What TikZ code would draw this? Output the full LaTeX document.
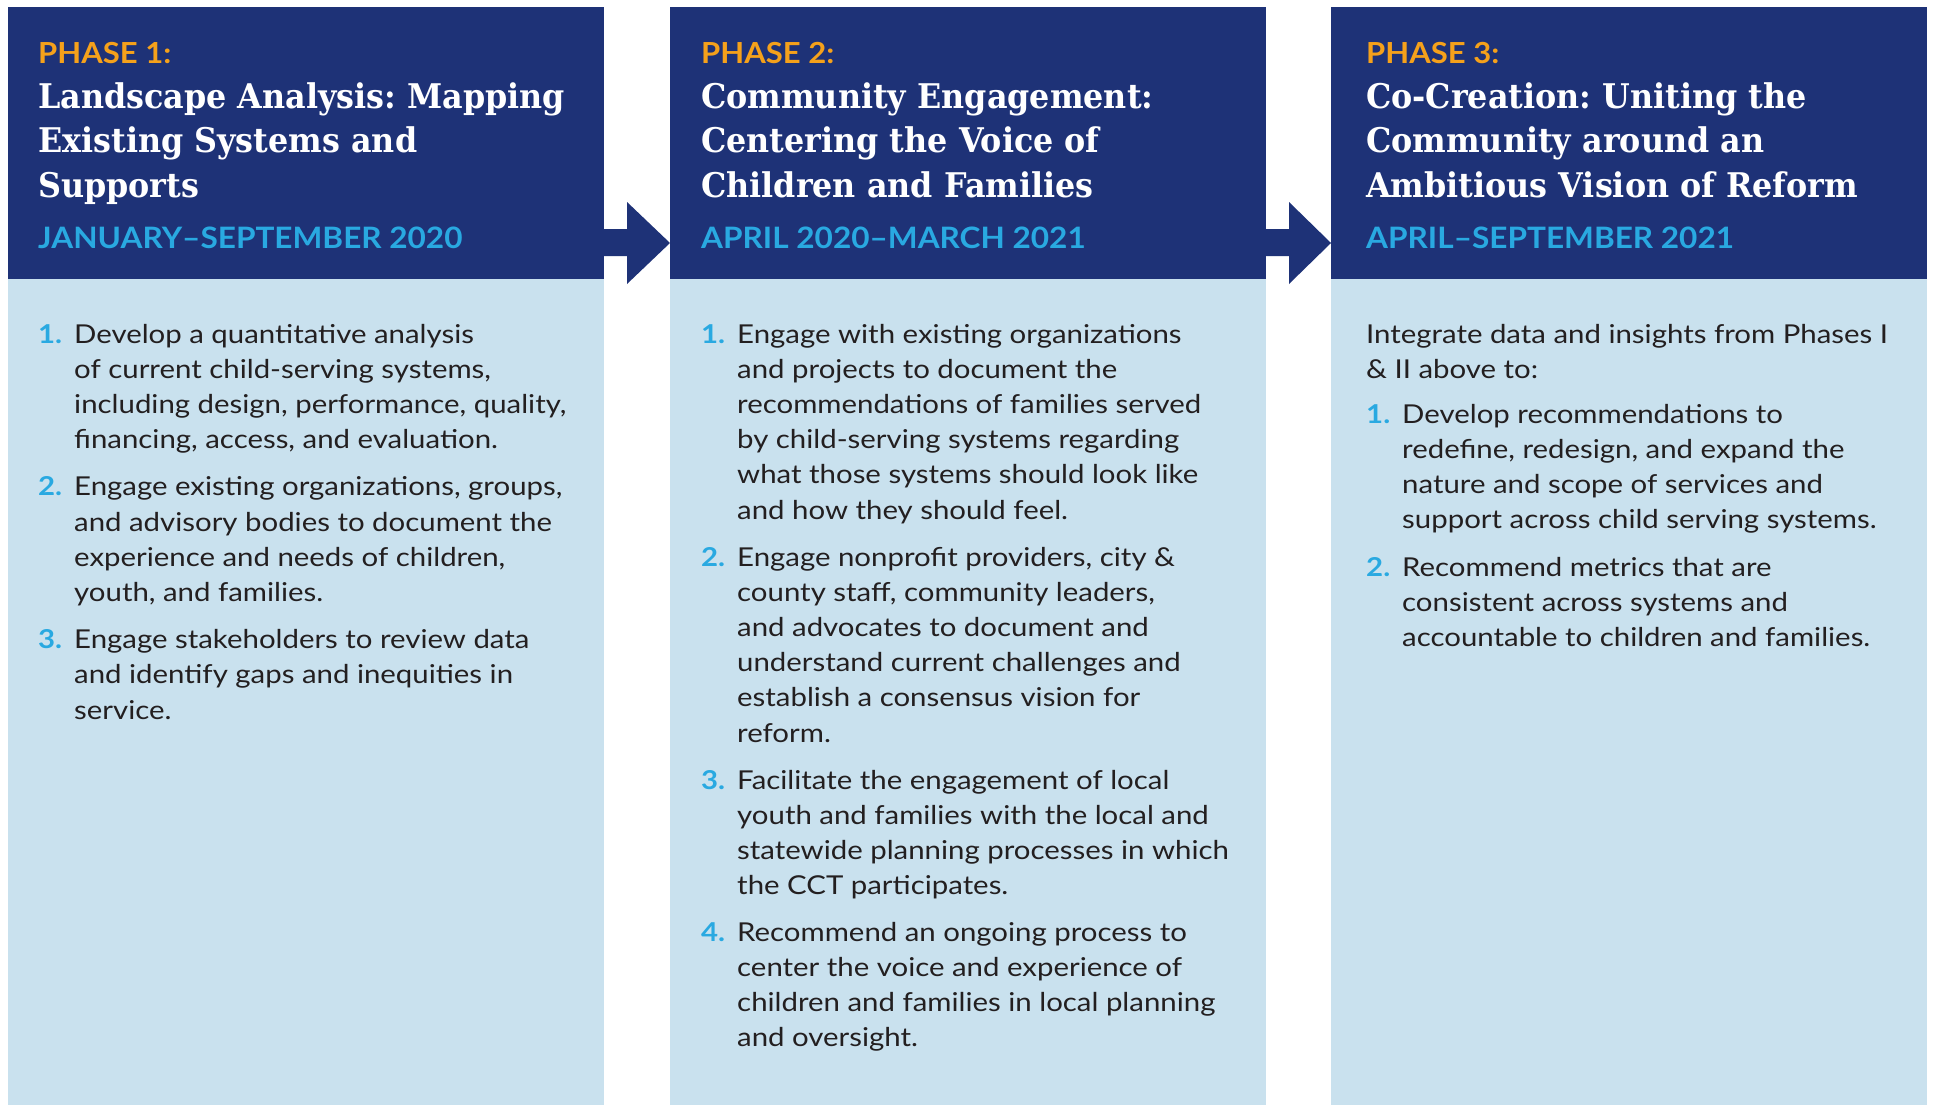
\documentclass[tikz,border=0pt]{standalone}
\usepackage{fontspec}
\setmainfont{Lato}[FakeStretch=1.13]
\newfontfamily\headsans{Lato}[FakeStretch=1.07]
\newfontfamily\slabfont{DejaVu Serif}[FakeStretch=0.935]
\usetikzlibrary{calc}
\definecolor{navy}{HTML}{1E3277}
\definecolor{pale}{HTML}{C9E1EE}
\definecolor{phaseorange}{HTML}{F5A11B}
\definecolor{dateblue}{HTML}{29A9E1}
\definecolor{ink}{HTML}{231F20}
\frenchspacing
\newcommand\phaseitem[6]{% name, num x, text x, baseline, number, lines
  \node[num] (#1n) at (#2,#4) {#5};
  \foreach \mytext [count=\k] in {#6} \node[txt] (#1l\k) at (#3,{#4+(\k-1)*35.2}) {\mytext};
}
\newcommand\phaselines[4]{% name, x, baseline, lines
  \foreach \mytext [count=\k] in {#4} \node[txt] (#1l\k) at (#2,{#3+(\k-1)*35.2}) {\mytext};
}
\newcommand\phasehead[6]{% name, x, phase, title lines, date
  \node[phase] (#1p) at (#2,64) {#3};
  \foreach \mytext [count=\k] in {#4} \node[title] (#1t\k) at (#2,{108.5+(\k-1)*44.4}) {\mytext};
  \node[date] (#1d) at (#2,248) {#5};
}
\begin{document}
\begin{tikzpicture}[x=1pt,y=-1pt,
  hdr/.style={fill=navy, draw=none, anchor=north west, minimum width=596pt, minimum height=272pt, inner sep=0pt, outer sep=0pt},
  bodybox/.style={fill=pale, draw=none, anchor=north west, minimum width=596pt, minimum height=830pt, inner sep=0pt, outer sep=0pt},
  phase/.style={anchor=base west, inner sep=0pt, text=phaseorange, font=\headsans\fontsize{29}{35}\selectfont\bfseries},
  title/.style={anchor=base west, inner sep=0pt, text=white, font=\slabfont\fontsize{34}{44}\selectfont\bfseries},
  date/.style={anchor=base west, inner sep=0pt, text=dateblue, font=\headsans\fontsize{29.5}{35}\selectfont\bfseries},
  num/.style={anchor=base west, inner sep=0pt, text=dateblue, font=\fontsize{26}{35}\selectfont\bfseries},
  txt/.style={anchor=base west, inner sep=0pt, text=ink, font=\fontsize{26}{35}\selectfont},
  arrowshape/.style={fill=navy}
]
\useasboundingbox[fill=white] (0,0) rectangle (1933,1105);
% columns
\node[bodybox] (b1) at (8,279) {};
\node[bodybox] (b2) at (670,279) {};
\node[bodybox] (b3) at (1331,279) {};
\node[hdr] (h1) at (8,7) {};
\node[hdr] (h2) at (670,7) {};
\node[hdr] (h3) at (1331,7) {};
% arrows
\foreach \a/\b in {h1/h2,h2/h3}{
  \fill[arrowshape] ($(\a.south east)+(-1,-50)$) -- ($(\a.south east)+(23,-50)$) -- ($(\a.south east)+(23,-77)$)
    -- ($(\b.south west)+(0,-36)$) -- ($(\a.south east)+(23,5)$) -- ($(\a.south east)+(23,-23)$)
    -- ($(\a.south east)+(-1,-23)$) -- cycle;
}
% headers
\phasehead{a}{38}{PHASE 1:}{Landscape Analysis: Mapping,Existing Systems and,Supports}{JANUARY–SEPTEMBER 2020}{}
\phasehead{b}{701}{PHASE 2:}{Community Engagement:,Centering the Voice of,Children and Families}{APRIL 2020–MARCH 2021}{}
\phasehead{c}{1366}{PHASE 3:}{{Co-Creation: Uniting the},Community around an,Ambitious Vision of Reform}{APRIL–SEPTEMBER 2021}{}
% column 1
\phaseitem{a1}{38}{74}{343}{1.}{Develop a quantitative analysis,{of current child-serving systems,},{including design, performance, quality,},{financing, access, and evaluation.}}
\phaseitem{a2}{38}{74}{495.8}{2.}{{Engage existing organizations, groups,},and advisory bodies to document the,{experience and needs of children,},{youth, and families.}}
\phaseitem{a3}{38}{74}{648.6}{3.}{Engage stakeholders to review data,and identify gaps and inequities in,service.}
% column 2
\phaseitem{b1}{701}{737}{343}{1.}{Engage with existing organizations,and projects to document the,recommendations of families served,by child-serving systems regarding,what those systems should look like,and how they should feel.}
\phaseitem{b2}{701}{737}{566}{2.}{{Engage nonprofit providers, city \&},{county staff, community leaders,},and advocates to document and,understand current challenges and,establish a consensus vision for,reform.}
\phaseitem{b3}{701}{737}{789}{3.}{Facilitate the engagement of local,youth and families with the local and,statewide planning processes in which,the CCT participates.}
\phaseitem{b4}{701}{737}{941}{4.}{Recommend an ongoing process to,center the voice and experience of,children and families in local planning,and oversight.}
% column 3
\phaselines{c0}{1366}{343}{Integrate data and insights from Phases I,\& II above to:}
\phaseitem{c1}{1366}{1402}{423}{1.}{Develop recommendations to,{redefine, redesign, and expand the},nature and scope of services and,support across child serving systems.}
\phaseitem{c2}{1366}{1402}{576}{2.}{Recommend metrics that are,consistent across systems and,accountable to children and families.}
\end{tikzpicture}
\end{document}
